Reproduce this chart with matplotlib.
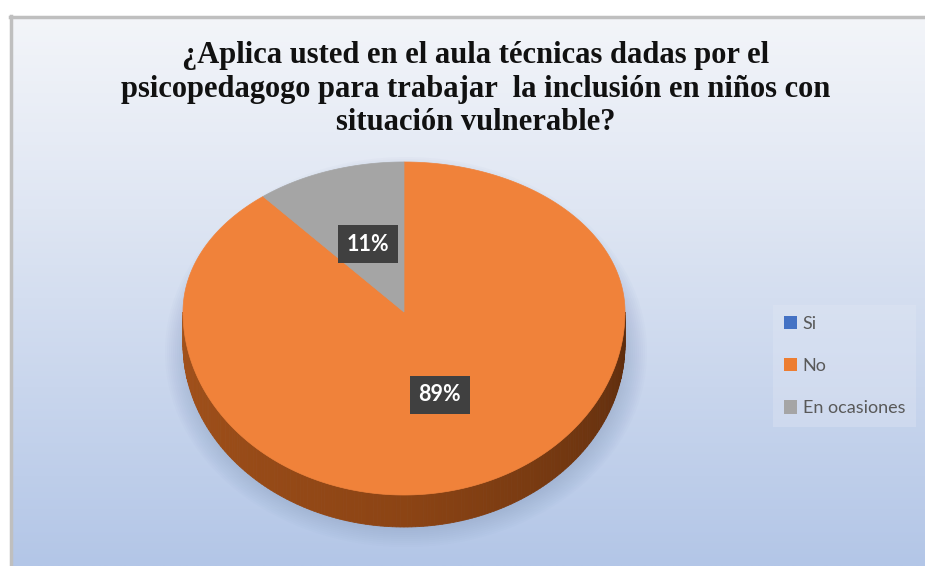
import numpy as np
import matplotlib.pyplot as plt
from matplotlib import font_manager
from matplotlib.patches import Polygon, Ellipse, Patch
from matplotlib.colors import to_rgb

available = {f.name for f in font_manager.fontManager.ttflist}
serif_font = next((n for n in ['Liberation Serif', 'Times New Roman', 'Tinos',
                               'Nimbus Roman', 'DejaVu Serif'] if n in available), 'serif')

# ---- data ----
categories = ['Si', 'No', 'En ocasiones']
values = [0, 89, 11]
colors = ['#4472C4', '#ED7D31', '#A5A5A5']
title = ('¿Aplica usted en el aula técnicas dadas por el\n'
         'psicopedagogo para trabajar  la inclusión en niños con\n'
         'situación vulnerable?')

W, H = 925, 566
fig = plt.figure(figsize=(9.25, 5.66), dpi=100)
ax = fig.add_axes([0, 0, 1, 1])
ax.set_xlim(0, W)
ax.set_ylim(H, 0)
ax.axis('off')

# ---- background gradient ----
top = np.array(to_rgb('#f3f5f9'))
mid = np.array(to_rgb('#dfe6f3'))
bot = np.array(to_rgb('#b3c6e7'))
t = np.linspace(0, 1, 300)[:, None]
grad = np.where(t < 0.35, top + (mid - top) * (t / 0.35),
                mid + (bot - mid) * ((t - 0.35) / 0.65))
img = np.repeat(grad[:, None, :], 2, axis=1)
ax.imshow(img, extent=[10, W, H, 16], aspect='auto', zorder=0)
ax.plot([10.5, 10.5], [16, H], color='#bfbfbf', lw=2.5, zorder=1)
ax.plot([10, W], [16.5, 16.5], color='#bfbfbf', lw=2.5, zorder=1)

# ---- pie geometry ----
cx, cy, rx, ry_top, ry_bot, depth = 404, 312, 221, 150, 183, 32


def pt(theta_deg, r=1.0, dy=0.0):
    th = np.radians(theta_deg)
    s = np.sin(th)
    ry = np.where(s > 0, ry_top, ry_bot)
    return cx + rx * r * np.cos(th), cy - ry * r * s + dy


# shadow
for k in range(12):
    ax.add_patch(Ellipse((cx + 2, cy + 40), 2 * rx + 40 - k * 4, 2 * 175 + 40 - k * 4,
                         color='#7d93bb', alpha=0.035, lw=0, zorder=2))

# side of the pie (front half)
c_left = np.array(to_rgb('#a3521b'))
c_mid = np.array(to_rgb('#8c4414'))
c_right = np.array(to_rgb('#5c2c0d'))
n = 180
ths = np.linspace(180, 360, n + 1)
for i in range(n):
    a0, a1 = ths[i], ths[i + 1]
    f = (0.5 * (a0 + a1) - 180) / 180
    col = c_left + (c_mid - c_left) * (f / 0.5) if f < 0.5 else c_mid + (c_right - c_mid) * ((f - 0.5) / 0.5)
    x0, y0 = pt(a0)
    x1, y1 = pt(a1)
    poly = [(x0, y0), (x1, y1), (x1, y1 + depth), (x0, y0 + depth)]
    ax.add_patch(Polygon(poly, closed=True, facecolor=col, edgecolor=col, lw=0.6, zorder=3))

# top faces
total = sum(values)
start = 90.0
label_pos = []
for v, c in zip(values, colors):
    sweep = 360.0 * v / total
    if v > 0:
        angs = np.linspace(start, start - sweep, 400)
        xs, ys = pt(angs)
        verts = [(cx, cy)] + list(zip(xs, ys))
        face = '#F0823A' if c == '#ED7D31' else c
        ax.add_patch(Polygon(verts, closed=True, facecolor=face, edgecolor=face, lw=0.5, zorder=4))
        mid_a = start - sweep / 2
        lx, ly = pt(mid_a, r=0.48)
        label_pos.append((float(lx), float(ly), f'{v}%'))
    start -= sweep

for lx, ly, txt in label_pos:
    ax.text(lx, ly, txt, ha='center', va='center', color='white', fontsize=15.5,
            fontweight='bold', family='Lato', zorder=6,
            bbox=dict(boxstyle='square,pad=0.4', facecolor='#404040', edgecolor='none'))

# ---- title ----
ax.text(476, 89, title, ha='center', va='center', fontsize=22, fontweight='bold',
        family=[serif_font, 'DejaVu Serif'], color='#111111', linespacing=1.22, zorder=6)

# ---- legend ----
handles = [Patch(facecolor=c, edgecolor='none') for c in colors]
leg = ax.legend(handles, categories, loc='upper left',
                bbox_to_anchor=(764 / W, 1 - 296 / H), frameon=True,
                prop={'family': 'Lato', 'size': 13}, labelcolor='#595959',
                handlelength=0.75, handleheight=0.75, handletextpad=0.3,
                labelspacing=1.45, borderpad=0.6, fancybox=False)
leg.get_frame().set_facecolor('#e2e8f4')
leg.get_frame().set_alpha(0.35)
leg.get_frame().set_edgecolor('none')

fig.savefig('out.png', dpi=100)
